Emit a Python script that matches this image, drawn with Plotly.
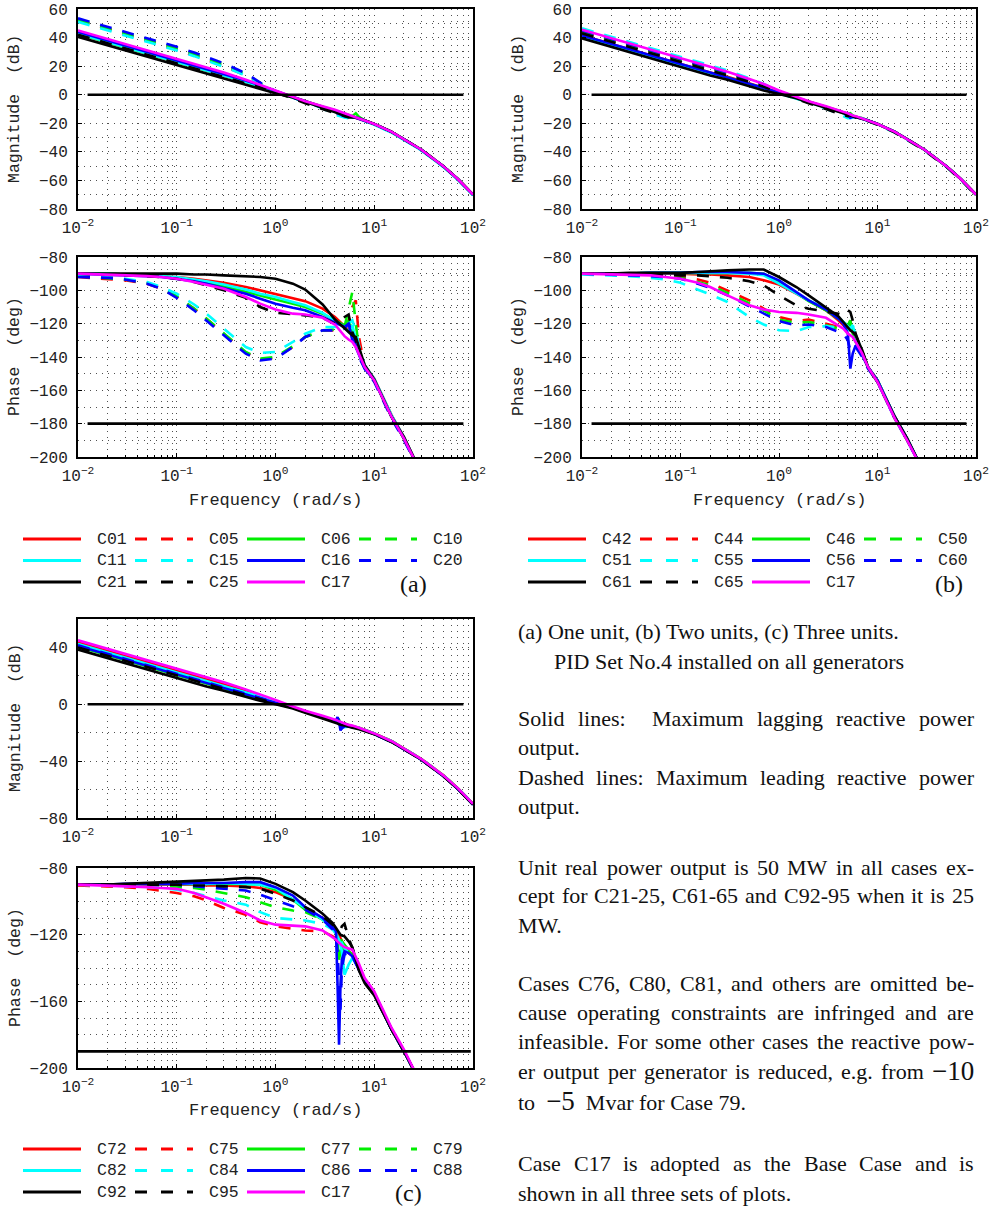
import plotly.graph_objects as go

# ---------------- data ----------------
CASES_A = ["C01", "C05", "C06", "C10", "C11", "C15", "C16", "C20", "C21", "C25", "C17"]
CASES_B = ["C42", "C44", "C46", "C50", "C51", "C55", "C56", "C60", "C61", "C65", "C17"]
CASES_C = ["C72", "C75", "C77", "C79", "C82", "C84", "C86", "C88", "C92", "C95", "C17"]

FREQ_A = [0.01, 0.02, 0.03, 0.05, 0.07, 0.1, 0.15, 0.2, 0.3, 0.5, 0.7, 1.0, 1.5, 2.0, 3.0, 4.0,
          5.0, 5.5, 6.0, 6.5, 7.0, 8.0, 10, 15, 20, 30, 50, 70, 100]
FREQ_B = [0.01, 0.02, 0.03, 0.05, 0.07, 0.1, 0.15, 0.2, 0.3, 0.5, 0.7, 1.0, 1.5, 2.0, 3.0, 4.0,
          4.5, 5.0, 5.3, 5.6, 6.0, 7.0, 8.0, 10, 15, 20, 30, 50, 70, 100]
FREQ_C = [0.01, 0.02, 0.03, 0.05, 0.07, 0.1, 0.15, 0.2, 0.3, 0.5, 0.7, 1.0, 1.5, 2.0, 3.0, 3.8,
          4.1, 4.25, 4.4, 4.55, 4.7, 5.0, 5.5, 6.0, 7.0, 8.0, 10, 15, 20, 30, 50, 70, 100]

MAG_A = {
    "C01": [43.5, 37.5, 34, 29.5, 26.5, 23.5, 20, 17.5, 14, 9.5, 6, 2.5, -1.5, -4.5, -8.5, -11, -13.5, -14.5, -15.5, -16, -16.5, -18, -20.5, -26, -31, -38.5, -50, -59, -70],
    "C05": [52, 46, 42.5, 38, 35, 31.5, 27.5, 24.5, 20, 13.5, 7.5, 2, -2, -5, -9, -13, -15.5, -16, -15.5, -15, -16.5, -18, -20.5, -26, -31, -38.5, -50, -59, -70],
    "C06": [42.5, 36.5, 33, 28.5, 25.5, 22.5, 19, 16.5, 13, 9, 5.5, 2, -2, -5, -8.5, -11, -13.5, -14.5, -15, -13, -15.5, -18, -20.5, -26, -31, -38.5, -50, -59, -70],
    "C10": [52.5, 46.5, 43, 38.5, 35.5, 32.5, 28.5, 25.5, 21, 14.5, 8, 2.5, -2, -5, -9, -12.5, -15, -15.5, -14, -13.5, -16, -18, -20.5, -26, -31, -38.5, -50, -59, -70],
    "C11": [43, 37, 33.5, 29, 26, 23, 19.5, 17, 13.5, 9, 5.5, 2, -2, -5, -9, -12, -14.5, -15.5, -16, -16, -16.5, -18.5, -21, -26.5, -31.5, -39, -50.5, -59.5, -70.5],
    "C15": [51, 45, 41.5, 37, 34, 31, 27, 24, 19.5, 13.5, 7.5, 2, -2, -5, -9.5, -14, -16, -16.5, -16, -15.5, -16.5, -18.5, -21, -26.5, -31.5, -39, -50.5, -59.5, -70.5],
    "C16": [44, 38, 34.5, 30, 27, 24, 20.5, 18, 14.5, 10, 6.5, 2.5, -1.5, -4.5, -8.5, -11, -13.5, -14.5, -15.5, -16, -16.5, -18, -20.5, -26, -31, -38.5, -50, -59, -70],
    "C20": [53.5, 47.5, 44, 39.5, 36.5, 33.5, 29.5, 26.5, 22, 15, 8.5, 2.5, -2, -5, -9, -12.5, -15, -15.5, -15.5, -15.5, -16.5, -18, -20.5, -26, -31, -38.5, -50, -59, -70],
    "C21": [40.5, 34.5, 31, 26.5, 23.5, 20.5, 17, 14.5, 11, 7, 4, 1, -2, -5, -9.5, -12, -14.5, -15, -15.5, -16, -16.5, -18, -20.5, -26, -31, -38.5, -50, -59, -70],
    "C25": [42, 36, 32.5, 28, 25, 22, 18.5, 16, 12.5, 8, 5, 1.5, -2.5, -6, -10, -12.5, -15, -16, -16, -15.5, -16.5, -18, -20.5, -26, -31, -38.5, -50, -59, -70],
    "C17": [45, 39, 35.5, 31, 28, 25, 21.5, 19, 15.5, 10.5, 7, 3, -1.5, -4.5, -8, -10.5, -13, -14, -15, -15.5, -16.5, -18, -20.5, -26, -31, -38.5, -50, -59, -70],
}
PH_A = {
    "C01": [-90, -90, -90.5, -91, -91.5, -92, -93, -94, -95.5, -98, -100, -102, -104.5, -106.5, -111, -116, -121.5, -124, -127, -131, -137, -145, -153, -175, -188, -210, -228, -238, -248],
    "C05": [-92, -93, -94, -96, -99, -104, -111, -117, -126, -137.5, -141.5, -140.5, -134, -128, -124, -124, -123, -118, -110, -106, -128, -146, -154, -176, -189, -210, -228, -238, -248],
    "C06": [-90, -90, -90.5, -91, -91.5, -92.5, -94, -95, -97.5, -101, -103, -105.5, -108, -110, -114, -118, -121, -118, -124, -132, -138, -146, -154, -176, -189, -210, -228, -238, -248],
    "C10": [-91.5, -92.5, -93.5, -95.5, -98.5, -103.5, -111, -117, -126, -137, -141, -140, -133.5, -128, -124, -123.5, -122, -112, -101, -120, -135, -146, -154, -176, -189, -210, -228, -238, -248],
    "C11": [-90, -90, -90.5, -91, -91.5, -92, -93.5, -94.5, -96.5, -99.5, -102, -104, -107, -109, -113.5, -118, -122, -125, -121, -129, -137, -145, -153, -175, -188, -210, -228, -238, -248],
    "C15": [-91.5, -92, -93, -95, -98, -102, -108.5, -114, -123, -134, -137.5, -137, -131, -126, -122, -122, -121.5, -120, -118, -124, -133, -145, -154, -176, -189, -210, -228, -238, -248],
    "C16": [-90, -90.5, -91, -91.5, -92, -93, -94.5, -96, -98.5, -102, -105, -108, -110.5, -112, -116, -119.5, -122, -120, -130, -134, -139, -147, -154, -176, -189, -210, -228, -238, -248],
    "C20": [-92, -92.5, -93.5, -96, -99, -104.5, -112, -118, -127, -138, -142, -141, -134, -128, -124, -124, -123, -120, -126, -133, -140, -147, -155, -177, -190, -210, -228, -238, -248],
    "C21": [-90, -90, -90, -90, -90, -90, -90.5, -90.5, -91, -91.5, -92, -93, -96, -99.5, -108.5, -117.5, -122.5, -125, -127, -128, -134, -145, -153.5, -176, -188, -210, -228, -238, -248],
    "C25": [-90, -90.5, -91, -91.5, -92, -93, -95, -97, -100, -104.5, -110, -113.5, -114.5, -115, -116.5, -120, -116, -114.5, -125, -130, -136, -146, -154, -176, -189, -210, -228, -238, -248],
    "C17": [-90, -90.5, -91, -91.5, -92, -93, -95, -96.5, -99, -104, -108, -111.5, -114, -114.5, -116.5, -120.5, -127.5, -129.5, -131, -134, -138, -146, -154, -176, -189, -210, -228, -238, -248],
}

MAG_B = {
    "C42": [41.5, 35.5, 32, 27.5, 24.5, 21.5, 18, 15.5, 12.5, 8, 5, 1.5, -2, -5, -8.5, -11, -12.5, -13.5, -14.5, -15, -15.5, -16.5, -18, -20.5, -26, -31, -38.5, -50, -59, -70],
    "C44": [44, 38, 34.5, 30, 27, 24, 20.5, 18, 14.5, 9.5, 6, 2, -2, -5, -9, -11.5, -13, -14, -14.5, -15, -15.5, -16.5, -18, -20.5, -26, -31, -38.5, -50, -59, -70],
    "C46": [41, 35, 31.5, 27, 24, 21, 17.5, 15, 12, 7.5, 4.5, 1.5, -2, -5, -8.5, -11, -12.5, -13.5, -13, -14.5, -15.5, -16.5, -18, -20.5, -26, -31, -38.5, -50, -59, -70],
    "C50": [44.5, 38.5, 35, 30.5, 27.5, 24.5, 21, 18.5, 15, 10, 6.5, 2, -2, -5, -9, -11.5, -13, -14, -14, -15, -15.5, -16.5, -18, -20.5, -26, -31, -38.5, -50, -59, -70],
    "C51": [40.5, 34.5, 31, 26.5, 23.5, 20.5, 17, 14.5, 11.5, 7, 4, 1, -2.5, -5.5, -9, -11.5, -13, -14, -14.5, -15, -15.5, -16.5, -18, -20.5, -26, -31, -38.5, -50, -59, -70],
    "C55": [46.5, 40.5, 37, 32.5, 29.5, 26.5, 23, 20.5, 17, 11.5, 7.5, 2.5, -2, -5.5, -10, -13, -15, -16.5, -16.5, -16, -16, -17, -18.5, -21, -26.5, -31.5, -39, -50.5, -59.5, -70.5],
    "C56": [41.5, 35.5, 32, 27.5, 24.5, 21.5, 18, 15.5, 12, 7.5, 4.5, 1.5, -2, -5, -8.5, -11, -12.5, -13.5, -16, -15, -15.5, -16.5, -18, -20.5, -26, -31, -38.5, -50, -59, -70],
    "C60": [45, 39, 35.5, 31, 28, 25, 21.5, 19, 15.5, 10.5, 7, 2.5, -2, -5, -9, -12, -13.5, -14.5, -16, -15.5, -15.5, -16.5, -18, -20.5, -26, -31, -38.5, -50, -59, -70],
    "C61": [39.5, 33.5, 30, 25.5, 22.5, 19.5, 16, 13.5, 10.5, 6, 3, 0.5, -2.5, -5.5, -9, -11.5, -13, -14, -14.5, -15, -15.5, -16.5, -18, -20.5, -26, -31, -38.5, -50, -59, -70],
    "C65": [43, 37, 33.5, 29, 26, 23, 19.5, 17, 13.5, 9, 5.5, 1.5, -2.5, -6, -10, -13, -14.5, -15, -14, -15, -16, -17, -18.5, -21, -26.5, -31.5, -39, -50.5, -59.5, -70.5],
    "C17": [45.5, 39.5, 36, 31.5, 28.5, 25.5, 22, 19.5, 16, 11, 7.5, 3, -1.5, -4.5, -8, -10.5, -12, -13, -14, -14.5, -15, -16.5, -18, -20.5, -26, -31, -38.5, -50, -59, -70],
}
PH_B = {
    "C42": [-90, -90, -90, -90, -90, -90, -90.5, -90.5, -91, -92, -94, -96.5, -102, -106, -112, -118, -121, -123.5, -124, -125, -129, -137, -146, -154, -176, -189, -210, -228, -238, -248],
    "C44": [-90, -90.5, -90.5, -91, -91.5, -92, -93.5, -95.5, -100, -106, -111, -116, -118.5, -117.5, -120, -122, -124, -123, -118, -124, -130, -138, -146, -154, -176, -189, -210, -228, -238, -248],
    "C46": [-90, -90, -90, -89.5, -89.5, -89.5, -89.5, -89.5, -89.5, -89.5, -90, -95, -101.5, -106.5, -112, -117, -119, -121, -118, -126, -130, -138, -146, -154, -176, -189, -210, -228, -238, -248],
    "C50": [-90, -90.5, -91, -91.5, -92, -92.5, -95, -97, -101.5, -108, -112, -117.5, -119.5, -119, -121, -123, -124, -123, -120, -126, -131, -138, -146, -154, -176, -189, -210, -228, -238, -248],
    "C51": [-90, -90, -90, -89.5, -89.5, -89.5, -89.5, -89.5, -89.5, -90, -91, -96, -102, -106, -111, -116, -119, -122, -123, -121, -127, -137, -146, -154, -176, -189, -210, -228, -238, -248],
    "C55": [-90.5, -91, -91.5, -92.5, -93.5, -95.5, -99.5, -102.5, -107, -116, -120.5, -124, -124.5, -122, -121.5, -122, -122.5, -124, -123, -121, -127, -137, -146, -155, -177, -190, -210, -228, -238, -248],
    "C56": [-90, -90, -90, -89.5, -89.5, -89.5, -89, -89, -89, -89.5, -90, -94, -101, -106, -111.5, -117, -120, -126, -147, -138, -133, -139, -146, -154, -176, -189, -210, -228, -238, -248],
    "C60": [-90, -90.5, -91, -91.5, -92, -93, -96, -98.5, -103, -109.5, -113.5, -118.5, -121, -120.5, -122, -124.5, -126, -130, -136, -137, -134, -140, -147, -155, -177, -190, -210, -228, -238, -248],
    "C61": [-90, -90, -89.5, -89.5, -89.5, -89.5, -89, -88.5, -88, -87.5, -87.5, -92, -98, -103, -110, -115.5, -119, -122.5, -124, -125, -127, -136, -146, -155, -176, -189, -210, -228, -238, -248],
    "C65": [-90, -90, -90.5, -90.5, -90.5, -91, -91, -91.5, -92.5, -94.5, -97, -103, -109, -111, -112.5, -114, -115, -112, -113, -118, -126, -137, -146, -155, -177, -190, -210, -228, -238, -248],
    "C17": [-90, -90.5, -90.5, -91, -92, -93, -95.5, -98, -103, -109, -111.5, -113, -113.5, -114.5, -116.5, -121, -123, -126, -127, -128, -131, -138, -146, -155, -177, -190, -210, -228, -238, -248],
}

MAG_C = {
    "C72": [43.5, 37.5, 34, 29.5, 26.5, 23.5, 20, 17.5, 14, 9.5, 6, 2, -2, -5, -9, -11, -12, -12.5, -13, -13.5, -13.5, -14, -15, -15.5, -16.5, -18, -20.5, -26, -31, -38.5, -50, -59, -70],
    "C75": [43, 37, 33.5, 29, 26, 23, 19.5, 17, 13.5, 9, 5.5, 1.5, -2.5, -5.5, -9.5, -11.5, -12.5, -13, -13.5, -14, -14, -14.5, -15, -15.5, -16.5, -18, -20.5, -26, -31, -38.5, -50, -59, -70],
    "C77": [40.5, 34.5, 31, 26.5, 23.5, 20.5, 17, 14.5, 11, 6.5, 3.5, 0.5, -2.5, -5.5, -9, -11, -12, -11.5, -11, -14, -15, -14.5, -15, -15.5, -16.5, -18, -20.5, -26, -31, -38.5, -50, -59, -70],
    "C79": [42, 36, 32.5, 28, 25, 22, 18.5, 16, 12.5, 8, 5, 1, -2.5, -5.5, -9, -11, -12, -12.5, -13, -13.5, -14, -14, -15, -15.5, -16.5, -18, -20.5, -26, -31, -38.5, -50, -59, -70],
    "C82": [42.5, 36.5, 33, 28.5, 25.5, 22.5, 19, 16.5, 13, 8.5, 5.5, 1.5, -2, -5, -9, -11, -12, -12.5, -13, -13.5, -14, -16, -15.5, -15.5, -16.5, -18.5, -21, -26.5, -31.5, -39, -50.5, -59.5, -70.5],
    "C84": [42, 36, 32.5, 28, 25, 22, 18.5, 16, 12.5, 8, 5, 1.5, -2, -5, -9, -11, -12, -12.5, -13, -13.5, -14, -14.5, -15, -15.5, -16.5, -18, -20.5, -26, -31, -38.5, -50, -59, -70],
    "C86": [41, 35, 31.5, 27, 24, 21, 17.5, 15, 11.5, 7, 4, 1, -2, -5, -9, -11, -11.5, -9, -12, -18.5, -16, -15, -15.5, -16, -17, -18.5, -21, -26.5, -31.5, -39, -50.5, -59.5, -70.5],
    "C88": [41.5, 35.5, 32, 27.5, 24.5, 21.5, 18, 15.5, 12, 7.5, 4.5, 1, -2, -5, -9, -11, -12, -11, -10, -16, -17, -15.5, -15.5, -16, -17, -18.5, -21, -26.5, -31.5, -39, -50.5, -59.5, -70.5],
    "C92": [38.5, 32.5, 29, 24.5, 21.5, 18.5, 15, 12.5, 9.5, 5, 2.5, 0, -3, -6, -10, -12, -13, -13.5, -14, -14.5, -14.5, -15, -16, -16.5, -17.5, -19, -21, -26.5, -31.5, -39, -50.5, -59.5, -70.5],
    "C95": [40, 34, 30.5, 26, 23, 20, 16.5, 14, 10.5, 6, 3.5, 0.5, -2.5, -5.5, -9.5, -11.5, -12.5, -13, -13.5, -14, -14, -13.5, -15, -16, -17, -18.5, -21, -26.5, -31.5, -39, -50.5, -59.5, -70.5],
    "C17": [45, 39, 35.5, 31, 28, 25, 21.5, 19, 15.5, 10.5, 7, 3, -1.5, -4.5, -8, -10, -11, -11.5, -12, -12.5, -13, -13.5, -14.5, -15, -16.5, -18, -20.5, -26, -31, -38.5, -50, -59, -70],
}
PH_C = {
    "C72": [-90, -90, -90, -90, -90, -90, -90, -90.5, -90.5, -91, -92, -94.5, -99, -104, -110, -115, -117.5, -119, -120.5, -122, -124, -127, -130, -132, -139, -147, -155, -177, -190, -210, -228, -238, -248],
    "C75": [-90.5, -91, -91.5, -92.5, -93.5, -95, -97, -99.5, -104, -108, -112.5, -115, -116.5, -117.5, -118, -121, -122.5, -123.5, -124.5, -125.5, -127, -129, -131, -133, -140, -147, -155, -177, -190, -210, -228, -238, -248],
    "C77": [-90, -90, -90, -89.5, -89.5, -89.5, -89.5, -89.5, -89.5, -89.5, -90, -93, -99, -105, -111, -116, -119, -125, -135, -130, -128, -129, -130, -132, -139, -147, -155, -177, -190, -210, -228, -238, -248],
    "C79": [-90, -90, -90.5, -90.5, -91, -91.5, -92, -93, -95, -97.5, -100.5, -103.5, -105.5, -106.5, -111, -116, -119, -120, -121.5, -122.5, -124, -126, -129, -132, -139, -147, -155, -177, -190, -210, -228, -238, -248],
    "C82": [-90, -90, -90, -89.5, -89.5, -89.5, -89.5, -89.5, -89, -89.5, -90, -92, -99, -104.5, -111, -116, -119, -121, -123, -126, -130, -144, -138, -134, -140, -147, -155, -177, -190, -210, -228, -238, -248],
    "C84": [-90, -90.5, -91, -91.5, -92, -93, -95, -97, -99.5, -102, -106.5, -110, -111, -111.5, -113.5, -117, -119.5, -120.5, -122, -123, -125, -128, -131, -133, -140, -147, -155, -177, -190, -210, -228, -238, -248],
    "C86": [-90, -90, -89.5, -89.5, -89.5, -89.5, -89, -89, -89, -88.5, -88.5, -91.5, -96.5, -103.5, -110, -115.5, -118, -150, -186, -150, -135, -130, -131, -133, -141, -148, -156, -177, -190, -210, -228, -238, -248],
    "C88": [-90, -90, -90, -90, -90, -90, -91, -91.5, -92.5, -93.5, -96, -99.5, -103, -105, -111, -117, -121, -130, -150, -165, -140, -132, -131, -133, -141, -148, -156, -177, -190, -210, -228, -238, -248],
    "C92": [-90, -90, -89.5, -89, -88.5, -88.5, -88, -87.5, -87, -86, -86.3, -89.5, -94.5, -99.5, -107.5, -113, -116, -117.5, -119, -120, -120.5, -121, -124, -127.5, -141.5, -149, -156.5, -177, -190, -210, -228, -238, -248],
    "C95": [-90, -90, -90, -90, -90, -90, -90.5, -90.5, -91, -91.5, -92.5, -95.5, -99.5, -103.5, -109, -114, -116, -117, -117.5, -117, -115, -113.5, -122, -128, -141, -149, -156, -177, -190, -210, -228, -238, -248],
    "C17": [-90, -90.5, -91, -91.5, -92, -92.5, -95, -97.5, -101.5, -107, -111.5, -114, -114.5, -115, -117.5, -121.5, -123, -124, -125, -126, -126.5, -127.5, -128.5, -129, -137.5, -146, -154, -176, -189, -210, -228, -238, -248],
}

# horizontal reference lines (0 dB, -180 deg, and the lower line of plot c)
REF_FREQ = [0.0125, 80]
REF_FREQ_C_PHASE = [0.0097, 95]
REF_MAG = [0, 0]
REF_PHASE = [-180, -180]
REF_PHASE_C = [-190, -190]

X_TICKS = [0.01, 0.1, 1, 10, 100]
X_TICK_TEXT = ["10<sup>−2</sup>", "10<sup>−1</sup>", "10<sup>0</sup>", "10<sup>1</sup>", "10<sup>2</sup>"]
X_MINOR = [m * d for d in (0.01, 0.1, 1, 10) for m in range(2, 10)]

# ---------------- styles ----------------
RED, GREEN, CYAN, BLUE, BLACK, MAGENTA = "#ff0000", "#00ee00", "#00ffff", "#0000ff", "#000000", "#ff00ff"
STYLES = [(RED, "solid"), (RED, "dash"), (GREEN, "solid"), (GREEN, "dash"),
          (CYAN, "solid"), (CYAN, "dash"), (BLUE, "solid"), (BLUE, "dash"),
          (BLACK, "solid"), (BLACK, "dash"), (MAGENTA, "solid")]
PLOT_DASH = "12px,11px"
LEG_DASH = "12px,14px"
LW = 2.6
W, H = 992, 1206
MONO = "Liberation Mono"
SERIF = "Liberation Serif"
TXT = "#222222"
GRID = "#505050"
GRID_DASH = "1px,5px"


def px(x):
    return x / W


def py(y):
    return 1 - y / H


fig = go.Figure()

PANELS = [
    (FREQ_A, MAG_A, PH_A, CASES_A, ("x", "y"), ("x2", "y2"), REF_FREQ, REF_PHASE),
    (FREQ_B, MAG_B, PH_B, CASES_B, ("x3", "y3"), ("x4", "y4"), REF_FREQ, REF_PHASE),
    (FREQ_C, MAG_C, PH_C, CASES_C, ("x5", "y5"), ("x6", "y6"), REF_FREQ_C_PHASE, REF_PHASE_C),
]

for freq, mag, ph, cases, (mx, my), (phx, phy), rfx, rfy in PANELS:
    for (data, ax, ay) in ((mag, mx, my), (ph, phx, phy)):
        for case, (col, dsh) in zip(cases, STYLES):
            vals = data[case]
            assert len(vals) == len(freq), (case, len(vals), len(freq))
            fig.add_trace(go.Scatter(
                x=freq, y=vals, mode="lines", name=case, xaxis=ax, yaxis=ay,
                line=dict(color=col, width=LW, dash=(PLOT_DASH if dsh == "dash" else "solid")),
                showlegend=False, hoverinfo="skip"))
    fig.add_trace(go.Scatter(x=REF_FREQ, y=REF_MAG, mode="lines", xaxis=mx, yaxis=my,
                             line=dict(color=BLACK, width=LW), showlegend=False, hoverinfo="skip"))
    fig.add_trace(go.Scatter(x=rfx, y=rfy, mode="lines", xaxis=phx, yaxis=phy,
                             line=dict(color=BLACK, width=LW), showlegend=False, hoverinfo="skip"))


def xaxis(left, right, anchor):
    return dict(
        type="log", range=[-2, 2], domain=[px(left), px(right)], anchor=anchor,
        automargin=False,
        showline=True, mirror=True, linecolor="black", linewidth=2,
        ticks="inside", ticklen=4, tickcolor="black", tickwidth=1,
        tickmode="array", tickvals=X_TICKS, ticktext=X_TICK_TEXT,
        tickfont=dict(family=MONO, size=16, color=TXT), ticklabelstandoff=3,
        showgrid=True, gridcolor=GRID, griddash=GRID_DASH, gridwidth=1,
        minor=dict(tickmode="array", tickvals=X_MINOR, showgrid=True, gridcolor=GRID,
                   griddash=GRID_DASH, gridwidth=1, ticks="inside", ticklen=2, tickcolor="black"),
        zeroline=False, fixedrange=True)


def yaxis(top, bottom, anchor, rng, dtick, tick0, minor_dtick):
    return dict(
        range=rng, domain=[py(bottom), py(top)], anchor=anchor,
        automargin=False,
        showline=True, mirror=True, linecolor="black", linewidth=2,
        ticks="inside", ticklen=4, tickcolor="black", tickwidth=1,
        dtick=dtick, tick0=tick0,
        tickfont=dict(family=MONO, size=16, color=TXT), ticklabelstandoff=5,
        showgrid=True, gridcolor=GRID, griddash=GRID_DASH, gridwidth=1,
        minor=dict(dtick=minor_dtick, tick0=tick0, showgrid=True, gridcolor=GRID,
                   griddash=GRID_DASH, gridwidth=1),
        zeroline=False, fixedrange=True)


LA, RA = 78, 473
LB, RB = 582, 976
fig.update_layout(
    xaxis=xaxis(LA, RA, "y"), yaxis=yaxis(9, 209, "x", [-80, 60], 20, 0, 10),
    xaxis2=xaxis(LA, RA, "y2"), yaxis2=yaxis(257, 457, "x2", [-200, -80], 20, -80, 10),
    xaxis3=xaxis(LB, RB, "y3"), yaxis3=yaxis(9, 209, "x3", [-80, 60], 20, 0, 10),
    xaxis4=xaxis(LB, RB, "y4"), yaxis4=yaxis(257, 457, "x4", [-200, -80], 20, -80, 10),
    xaxis5=xaxis(LA, RA, "y5"), yaxis5=yaxis(619, 818, "x5", [-80, 60], 40, 0, 20),
    xaxis6=xaxis(LA, RA, "y6"), yaxis6=yaxis(868, 1068, "x6", [-200, -80], 40, -80, 10),
)

annotations = []
shapes = []


def ann(text, x, y, size, family=MONO, xanchor="center", yanchor="middle", angle=0, color=TXT):
    annotations.append(dict(text=text, x=px(x), y=py(y), xref="paper", yref="paper",
                            showarrow=False, xanchor=xanchor, yanchor=yanchor, borderpad=0,
                            textangle=angle, font=dict(family=family, size=size, color=color)))


# axis titles
for tx, cy in ((15, 109), (519, 109), (15, 718)):
    ann("Magnitude\u00a0\u00a0(dB)", tx, cy, 16.5, angle=-90)
for tx, cy in ((15, 357), (519, 357), (15, 968)):
    ann("Phase\u00a0\u00a0(deg)", tx, cy, 16.5, angle=-90)
for cx, cy in ((275, 500), (779, 500), (275, 1110)):
    ann("Frequency (rad/s)", cx, cy, 17)

# legends drawn under each panel
LEG_COLS = [23, 135, 247, 359]
SEG = 58
for cases, dx, rows, tag, tag_xy in (
        (CASES_A, 0, [539, 560.5, 582], "(a)", (413, 584)),
        (CASES_B, 505, [539, 560.5, 582], "(b)", (949, 584)),
        (CASES_C, 0, [1149, 1170.5, 1192], "(c)", (408, 1193))):
    for i, (case, (col, dsh)) in enumerate(zip(cases, STYLES)):
        r, c = divmod(i, 4)
        x0 = LEG_COLS[c] + dx
        y0 = rows[r]
        shapes.append(dict(type="line", xref="paper", yref="paper",
                           x0=px(x0), x1=px(x0 + SEG), y0=py(y0), y1=py(y0),
                           line=dict(color=col, width=3, dash=(LEG_DASH if dsh == "dash" else "solid"))))
        ann(case, x0 + 73, y0, 16.5, xanchor="left")
    ann(tag, tag_xy[0], tag_xy[1], 24, family=SERIF, color="#111111")

# ---------------- right-hand text block ----------------
TW = {' ': 250, 'a': 444, 'b': 500, 'c': 444, 'd': 500, 'e': 444, 'f': 333, 'g': 500, 'h': 500,
      'i': 278, 'j': 278, 'k': 500, 'l': 278, 'm': 778, 'n': 500, 'o': 500, 'p': 500, 'q': 500,
      'r': 333, 's': 389, 't': 278, 'u': 500, 'v': 500, 'w': 722, 'x': 500, 'y': 500, 'z': 444,
      'A': 722, 'B': 667, 'C': 667, 'D': 722, 'E': 611, 'F': 556, 'G': 722, 'H': 722, 'I': 333,
      'J': 389, 'K': 722, 'L': 611, 'M': 889, 'N': 722, 'O': 722, 'P': 556, 'Q': 722, 'R': 667,
      'S': 556, 'T': 611, 'U': 722, 'V': 722, 'W': 944, 'X': 722, 'Y': 722, 'Z': 611,
      '.': 250, ',': 250, ':': 278, '-': 333, '(': 333, ')': 333, '\u2212': 564}
FS = 22
TL, TR = 517, 973


def tw(s, fs):
    return sum(TW.get(ch, 500) for ch in s) * fs / 1000.0


def justified(words, y):
    toks = [(w, FS) if isinstance(w, str) else w for w in words]
    total = sum(tw(t, s) for t, s in toks)
    gap = (TR - TL - total) / (len(toks) - 1)
    x = TL
    for t, s in toks:
        if t:
            ann(t, x, y, s, family=SERIF, xanchor="left", color="#111111")
        x += tw(t, s) + gap


def plain(text, x, y):
    ann(text, x, y, FS, family=SERIF, xanchor="left", color="#111111")


plain("(a) One unit, (b) Two units, (c) Three units.", TL, 631)
plain("PID Set No.4 installed on all generators", 553, 661)
justified(["Solid", "lines:", "", "Maximum", "lagging", "reactive", "power"], 718)
plain("output.", TL, 748)
justified(["Dashed", "lines:", "Maximum", "leading", "reactive", "power"], 777)
plain("output.", TL, 806)
justified("Unit real power output is 50 MW in all cases ex-".split(), 867)
justified("cept for C21-25, C61-65 and C92-95 when it is 25".split(), 896)
plain("MW.", TL, 925)
justified("Cases C76, C80, C81, and others are omitted be-".split(), 983)
justified("cause operating constraints are infringed and are".split(), 1012)
justified("infeasible. For some other cases the reactive pow-".split(), 1041)
justified("er output per generator is reduced, e.g. from".split() + [("\u221210", 27)], 1071)
plain("to\u00a0\u00a0<span style='font-size:27px'>\u22125</span>\u00a0\u00a0Mvar for Case 79.", TL, 1101)
justified("Case C17 is adopted as the Base Case and is".split(), 1163)
plain("shown in all three sets of plots.", TL, 1193)

fig.update_layout(
    template="none",
    width=W, height=H, margin=dict(l=0, r=0, t=0, b=0, autoexpand=False),
    paper_bgcolor="white", plot_bgcolor="white", showlegend=False,
    annotations=annotations, shapes=shapes,
)

fig.write_html(
    "out.html",
    config={"displayModeBar": False, "staticPlot": True},
    post_script="document.body.style.margin='0';document.body.style.padding='0';"
                "document.body.style.overflow='hidden';"
                "document.documentElement.style.overflow='hidden';",
)
